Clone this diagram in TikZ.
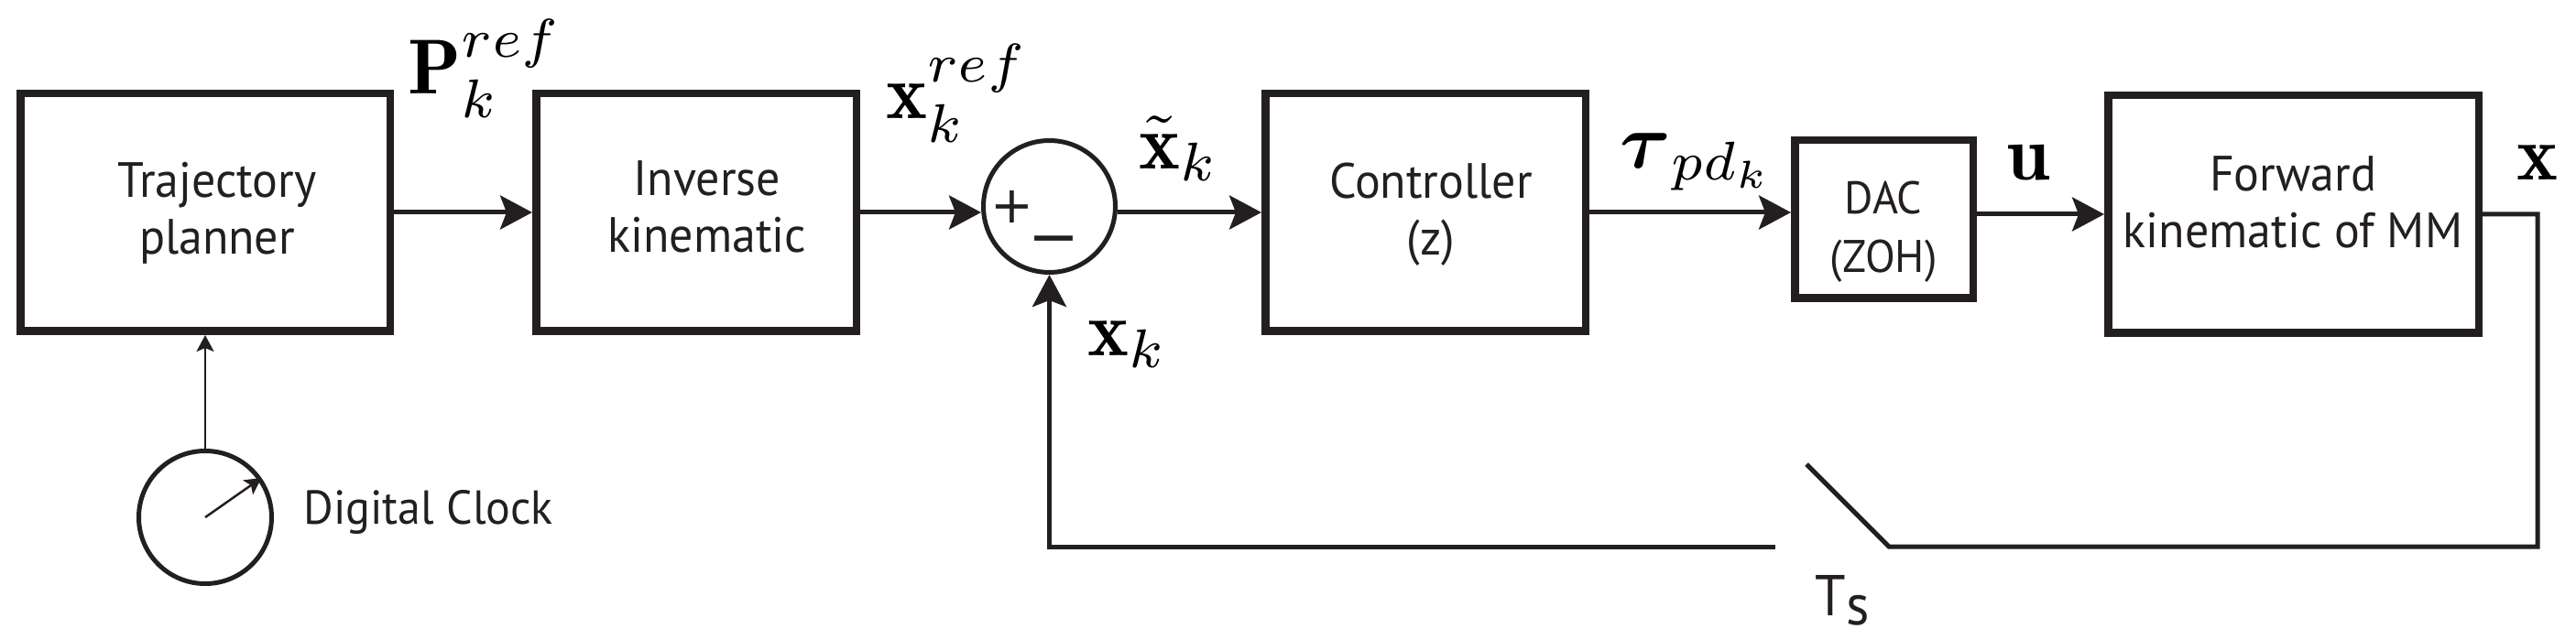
\documentclass[tikz,border=0pt]{standalone}
\usepackage{amsmath}
\usepackage{fontspec}
\newfontfamily\lab[FakeStretch=0.96]{PT Sans}
\newfontfamily\djv{DejaVu Sans}
\usetikzlibrary{arrows.meta}
\definecolor{ink}{HTML}{231F20}
\newcommand{\mylabmath}[1]{\scalebox{2.42}{$#1$}}
\tikzset{
  blk/.style={draw=ink, line width=0.085cm, minimum height=2.595cm, inner sep=0pt},
  sumnode/.style={draw=ink, circle, line width=0.05cm, minimum size=1.44cm, inner sep=0pt},
  sig/.style={draw=ink, line width=0.05cm, -{Stealth[length=0.35cm,width=0.37cm,inset=0.07cm]}},
  wire/.style={draw=ink, line width=0.05cm},
  thinarrow/.style={draw=ink, line width=0.025cm, -{Stealth[length=0.18cm,width=0.19cm,inset=0.04cm]}},
  txt/.style={font=\lab\fontsize{15.4}{17.6}\selectfont, align=center, inner sep=0pt, text=ink},
  mth/.style={inner sep=0pt, anchor=base west},
  sign/.style={inner sep=0pt, text=ink},
}
\begin{document}
\begin{tikzpicture}
\useasboundingbox (0,0) rectangle (28.12,-6.99);

% blocks
\node[blk, minimum width=4.035cm] (traj) at (2.24,-2.32) {};
\node[blk, minimum width=3.495cm] (inv) at (7.60,-2.32) {};
\node[sumnode] (sum) at (11.455,-2.255) {};
\node[blk, minimum width=3.495cm] (ctrl) at (15.56,-2.32) {};
\node[blk, minimum width=1.945cm, minimum height=1.725cm] (dac) at (20.565,-2.395) {};
\node[blk, minimum width=4.045cm] (fwd) at (25.035,-2.34) {};
\node[sumnode, minimum size=1.45cm] (clock) at (2.24,-5.65) {};

% block texts
\node[txt] (trajtext) at (2.37,-2.33) {Trajectory\\planner};
\node[txt] (invtext) at (7.72,-2.26) {Inverse\\kinematic};
\node[txt] (ctrltext) at (15.62,-2.34) {Controller\\(z)};
\node[txt, font=\lab\fontsize{14.2}{18.2}\selectfont] (dactext) at (20.56,-2.53) {DAC\\(ZOH)};
\node[txt] (fwdtext) at (25.03,-2.205) {Forward\\kinematic of MM};
\node[txt, font=\lab\fontsize{14.8}{17}\selectfont, anchor=base west] (clocktext) at (3.31,-5.72) {Digital Clock};
\node[txt, font=\lab\fontsize{17.9}{20}\selectfont, anchor=base west] (ts) at (19.81,-6.72) {T\raisebox{-0.1cm}{s}};

% signs in the summing junction
\node[sign, font=\djv\fontsize{15.9}{16}\selectfont] (plus) at (11.05,-2.26) {+};
\node[sign, font=\djv\fontsize{19}{19}\selectfont] (minus) at (11.50,-2.70) {−};

% math labels
\node[mth] (Plab) at (4.45,-1.03) {\mylabmath{\mathbf{P}_k^{ref}}};
\node[mth] (xref) at (9.67,-1.30) {\mylabmath{\mathbf{x}_k^{ref}}};
\node[mth] (xtil) at (12.43,-1.85) {\mylabmath{\tilde{\mathbf{x}}_k}};
\node[mth] (xk) at (11.87,-3.89) {\mylabmath{\mathbf{x}_k}};
\node[mth] (tau) at (17.68,-1.84) {\mylabmath{\boldsymbol{\tau}_{pd_k}}};
\node[mth] (ulab) at (21.90,-1.97) {\mylabmath{\mathbf{u}}};
\node[mth] (xout) at (27.47,-1.97) {\mylabmath{\mathbf{x}}};

% forward signal path
\draw[sig] (traj.east) -- (inv.west);
\draw[sig] (inv.east) -- (inv.east -| sum.west);
\draw[sig] (inv.east -| sum.east) -- (inv.east -| ctrl.west);
\draw[sig] (ctrl.east) -- (ctrl.east -| dac.west);
\draw[sig] (dac.east |- fwd.west) -- (fwd.west);

% feedback with sampler switch
\coordinate (corner) at (27.70,-5.97);
\coordinate (swR) at (20.62,-5.97);
\coordinate (swT) at (19.72,-5.07);
\coordinate (swL) at (19.38,-5.97);
\draw[wire] (fwd.east) -| (corner) -- (swR) -- (swT);
\draw[sig] (swL) -| (sum.south);

% clock
\draw[thinarrow] (clock.north) -- (traj.south);
\draw[thinarrow] (clock.center) -- (clock.35);
\end{tikzpicture}
\end{document}
